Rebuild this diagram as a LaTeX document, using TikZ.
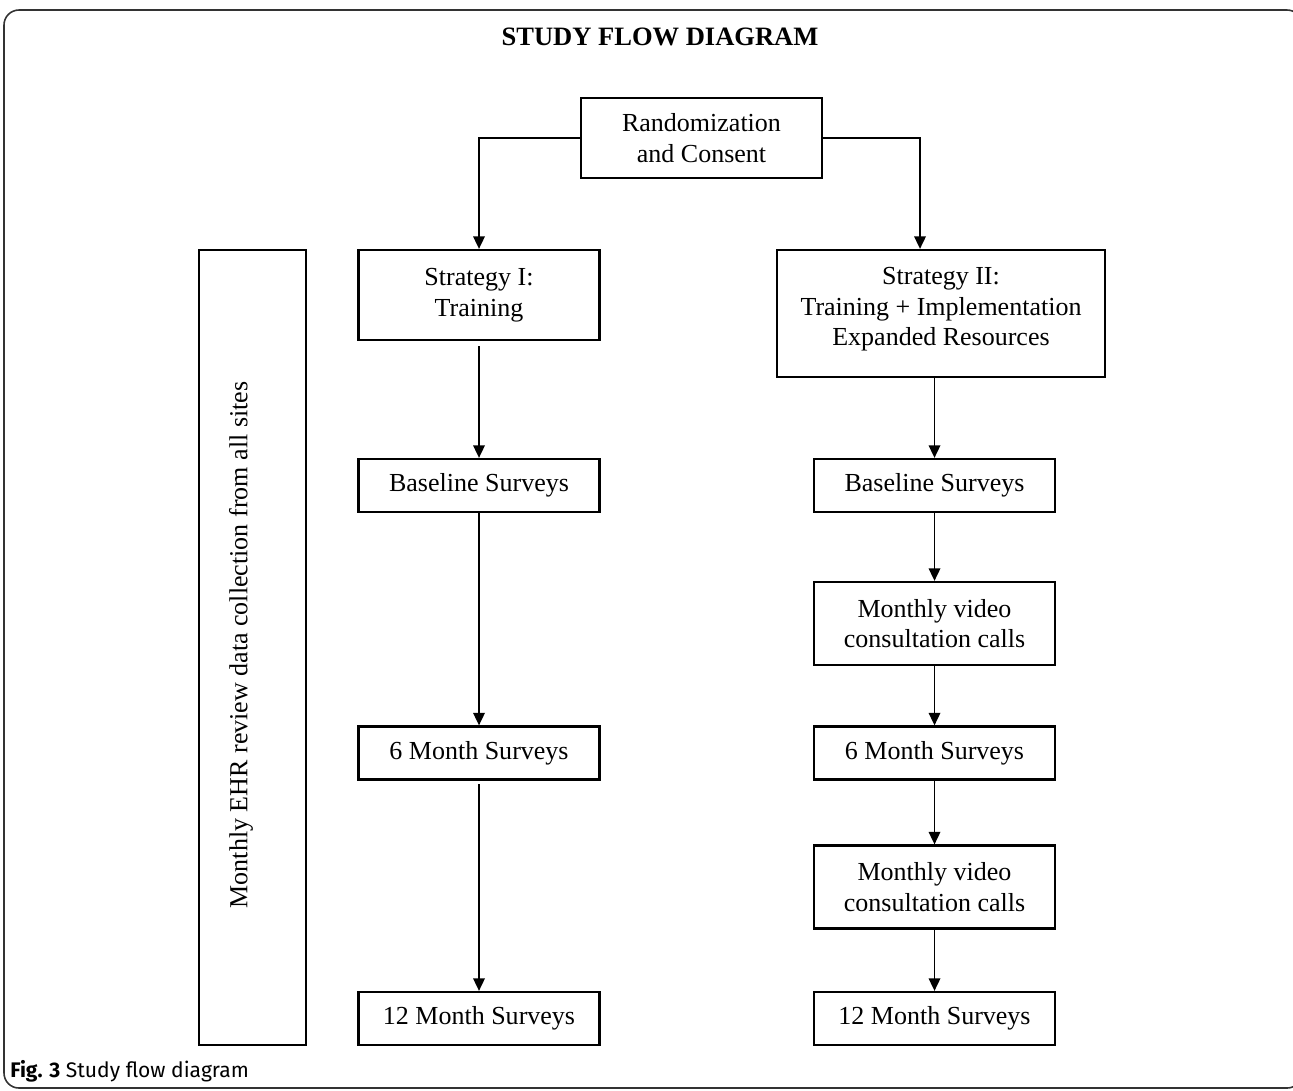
\documentclass[tikz,border=0pt]{standalone}
\usepackage{fontspec}
\setmainfont{Liberation Serif}
\newfontfamily\capfont{Fira Sans}
\usetikzlibrary{positioning, arrows.meta}

\begin{document}
\begin{tikzpicture}[
    x=0.02cm, y=-0.02cm,
    box/.style={draw, line width=1.3pt, align=center, inner sep=0pt, minimum width=4.82cm, font=\fontsize{14.8}{17.3}\selectfont},
    survey/.style={box, minimum height=1.06cm},
    video/.style={box, minimum height=1.66cm},
    arrow/.style={-{Triangle[length=2.5mm, width=2.3mm]}, line width=1pt},
]
\useasboundingbox (0,0) rectangle (1293,1090);

% Frame
\draw[line width=0.9pt, black!80, rounded corners=0.3cm] (4,10) rectangle (1302,1088);

% Title and caption
\node[font=\bfseries\fontsize{15.1}{18}\selectfont] (title) at (660,37) {STUDY FLOW DIAGRAM};
\node[anchor=west, inner sep=0pt, font=\capfont\fontsize{12}{14}\selectfont] (caption) at (10,1071) {\textbf{Fig. 3} Study flow diagram};

% Nodes
\node[box, minimum height=1.6cm] (rand) at (701.5,138) {Randomization\\and Consent};
\node[box, minimum height=1.8cm] (s1) at (479,295) {Strategy I:\\Training};
\node[box, minimum width=6.56cm, minimum height=2.54cm, text depth=0.27cm] (s2) at (941,313.5) {Strategy II:\\Training + Implementation\\Expanded Resources};
\node[box, minimum width=2.14cm, minimum height=15.9cm] (ehr) at (252.5,647.5) {};
\node[rotate=90, font=\fontsize{14.8}{17.3}\selectfont] (ehrtext) at (241,645) {Monthly EHR review data collection from all sites};

% left arm
\node[survey] (base1) at (479,485.5) {Baseline Surveys};
\node[survey] (m6a) at (479,753) {6 Month Surveys};
\node[survey] (m12a) at (479,1018.5) {12 Month Surveys};

% right arm
\node[survey] (base2) at (934.5,485.5) {Baseline Surveys};
\node[video] (video1) at (934.5,623.5) {Monthly video\\consultation calls};
\node[survey] (m6b) at (934.5,753) {6 Month Surveys};
\node[video] (video2) at (934.5,887) {Monthly video\\consultation calls};
\node[survey] (m12b) at (934.5,1018.5) {12 Month Surveys};

% Arrows
\draw[arrow] (rand.west) -| (s1.north);
\draw[arrow] (rand.east) -| ([xshift=-0.42cm]s2.north);

\draw[arrow, shorten <=3pt] (s1) -- (base1);
\draw[arrow] (base1) -- (m6a);
\draw[arrow, shorten <=2pt] (m6a) -- (m12a);

\draw[arrow] (base2.north |- s2.south) -- (base2);
\draw[arrow] (base2) -- (video1);
\draw[arrow] (video1) -- (m6b);
\draw[arrow] (m6b) -- (video2);
\draw[arrow] (video2) -- (m12b);

\end{tikzpicture}
\end{document}
